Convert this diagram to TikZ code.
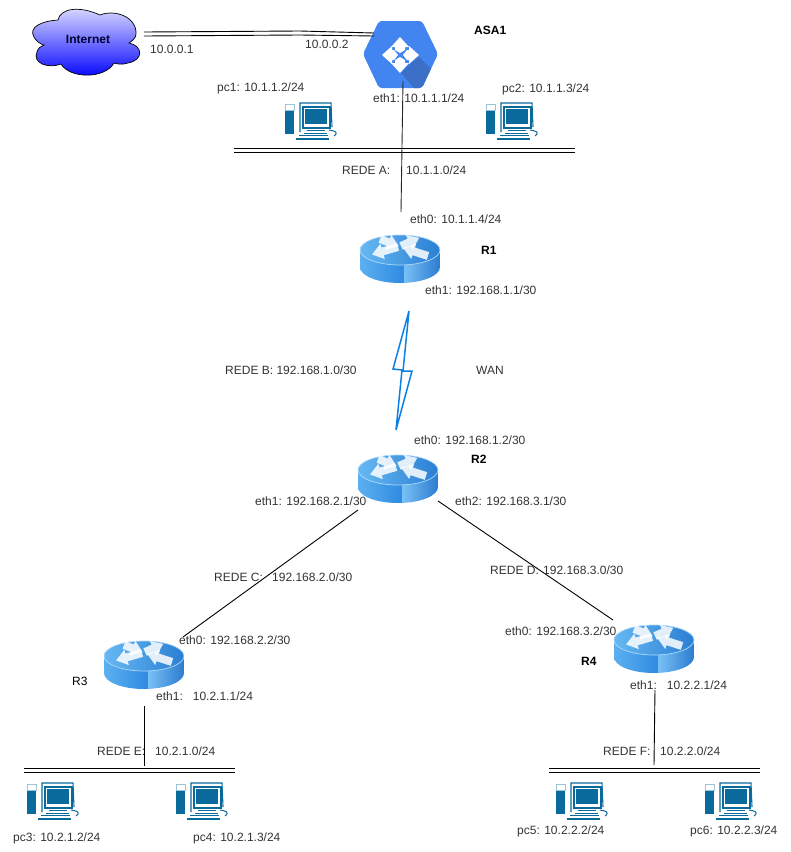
\documentclass[tikz,border=0pt]{standalone}
\usepackage{fontspec}
\setmainfont{Liberation Sans}
\usepackage{tikz}
\usetikzlibrary{arrows,positioning}
\definecolor{pcblue}{HTML}{0B6A9C}
\definecolor{asablue}{HTML}{4285F0}
\definecolor{asadark}{HTML}{3B6FC8}
\definecolor{txtgrey}{HTML}{333333}
\definecolor{wanblue}{HTML}{0A7FE6}
\definecolor{rtop1}{HTML}{66B8F2}
\definecolor{rtop2}{HTML}{2A7FD3}
\definecolor{rbody1}{HTML}{5CB0F0}
\definecolor{rbody2}{HTML}{2F8BE2}
\definecolor{rbody3}{HTML}{78C0F6}
\definecolor{rbody4}{HTML}{2C7CCF}
\tikzstyle{lbl}=[anchor=west,inner sep=0pt,text=txtgrey,font=\fontsize{12}{14}\selectfont]
\tikzstyle{devname}=[lbl,text=black,font=\fontsize{12}{14}\selectfont\bfseries]
\tikzstyle{link}=[draw=black,line width=.9pt]
\tikzstyle{bus}=[draw=black,line width=1pt]
\tikzset{
  router/.pic={
    \begin{scope}
      \clip (-40,-8) -- (-40,8) .. controls (-40,17) and (-22,24) .. (0,24)
        .. controls (22,24) and (40,17) .. (40,8) -- (40,-8) -- cycle;
      \path[left color=rbody1,right color=rbody2] (-40,-10) rectangle (4,25);
      \path[left color=rbody3,right color=rbody4] (4,-10) rectangle (40,25);
    \end{scope}
    \path[draw=rbody3!60!white,line width=.7pt,left color=rtop1,right color=rtop2]
      (0,-9) ellipse [x radius=40pt,y radius=15pt];
    \foreach \tx/\ty/\ang/\len in {-20/-20/-21/20, -2/-12/196/27, 1/-13/24/20, 28/-3/162/26}
      \fill[white,opacity=.85,shift={(\tx,\ty)},rotate=\ang]
        (0,-4) -- (\len-11,-4) -- (\len-11,-8) -- (\len,0) -- (\len-11,8) -- (\len-11,4) -- (0,4) -- cycle;
  },
  pcicon/.pic={
    \draw[pcblue!40!white,line width=.6pt] (0,2) rectangle (9,8);
    \fill[pcblue] (0,9) rectangle (9,32);
    \draw[pcblue,line width=1.1pt] (15,30) -- (15,1) -- (46,1) -- (47,25);
    \draw[pcblue,line width=1.1pt] (18,5) rectangle (45,26);
    \fill[pcblue] (20,7) rectangle (42,22);
    \draw[pcblue,line width=1pt] (22,28) -- (40,28);
    \draw[pcblue,line width=1pt] (19,31) -- (42,31);
    \draw[pcblue,line width=1pt] (44,28) .. controls (50,29) and (54,30) .. (49,34);
    \draw[pcblue,line width=1pt] (14,33) -- (43,33);
    \draw[pcblue,line width=1.3pt] (11,37) -- (44,37);
  }
}
\begin{document}
\begin{tikzpicture}[x=1pt,y=-1pt,>=stealth]
\useasboundingbox (0,0) rectangle (791,852);

% internet
\path[draw=black,line width=.7pt,top color=blue!12!white,bottom color=blue]
  (34,37) .. controls (28,27) and (42,21) .. (58,20)
  .. controls (60,9) and (78,5) .. (100,15)
  .. controls (115,9) and (137,17) .. (136,34)
  .. controls (136,38) and (132,41) .. (129,43)
  .. controls (143,46) and (144,60) .. (128,63)
  .. controls (122,65) and (117,64) .. (114,63)
  .. controls (105,79) and (70,79) .. (61,64)
  .. controls (48,69) and (32,63) .. (37,52)
  .. controls (38,48) and (41,46) .. (44,45)
  .. controls (40,44) and (36,41) .. (34,37) -- cycle;
\node[inner sep=0pt,text=black!80!blue,font=\fontsize{12}{14}\selectfont\bfseries] (inet) at (88,39) {Internet};

% asa
\fill[asablue,rounded corners=3pt] (379,21) -- (422,21) -- (438,54) -- (422,88) -- (379,88) -- (363,54) -- cycle;
\begin{scope}
  \clip[rounded corners=3pt] (379,21) -- (422,21) -- (438,54) -- (422,88) -- (379,88) -- (363,54) -- cycle;
  \fill[asadark] (419,57) -- (440,78) -- (430,95) -- (420,95) -- (401,73) -- (410,64) -- cycle;
\end{scope}
\fill[white] (400,37) -- (409,47) -- (405,47) -- (405,50) -- (400,53) -- (395,50) -- (395,47) -- (391,47) -- cycle;
\fill[white] (400,73) -- (409,63) -- (405,63) -- (405,60) -- (400,57) -- (395,60) -- (395,63) -- (391,63) -- cycle;
\fill[white] (382,55) -- (392,46) -- (392,50) -- (394,50) -- (398,55) -- (394,60) -- (392,60) -- (392,64) -- cycle;
\fill[white] (419,55) -- (409,46) -- (409,50) -- (407,50) -- (403,55) -- (407,60) -- (409,60) -- (409,64) -- cycle;
\coordinate (asaw1) at (374,33);
\coordinate (asaw2) at (374,36);
\coordinate (inet1) at (144,32);
\coordinate (inet2) at (144,36);
\coordinate (asas) at (403,81);

% routers
\pic at (400,259) {router};
\pic at (398,479) {router};
\pic at (144,665) {router};
\pic at (654,649) {router};

% pcs
\pic at (285,102) {pcicon};
\pic at (486,102) {pcicon};
\pic at (27,782) {pcicon};
\pic at (176,782) {pcicon};
\pic at (556,782) {pcicon};
\pic at (705,782) {pcicon};

% busses
\coordinate (busal) at (234,148);
\coordinate (busar) at (575,148);
\coordinate (busbl) at (234,152);
\coordinate (busbr) at (575,152);
\coordinate (busel) at (24,768);
\coordinate (buser) at (235,768);
\coordinate (busfl) at (24,772);
\coordinate (busfr) at (235,772);
\coordinate (busgl) at (549,768);
\coordinate (busgr) at (760,768);
\coordinate (bushl) at (549,772);
\coordinate (bushr) at (760,772);
\path[bus] (busal) -- (busar) (busbl) -- (busbr) (busel) -- (buser) (busfl) -- (busfr) (busgl) -- (busgr) (bushl) -- (bushr);

% links
\coordinate (r1n) at (401,212);
\coordinate (r2w) at (358,510);
\coordinate (r3e) at (183,637);
\coordinate (r2e) at (438,501);
\coordinate (r4n) at (613,620);
\coordinate (r3s) at (144,706);
\coordinate (esw) at (144,766);
\coordinate (r4s) at (655,690);
\coordinate (fsw) at (654,765);
\draw[link] (inet1) -- (300,31) -- (asaw1);
\draw[link] (inet2) -- (300,35) -- (asaw2);
\draw[link,black!85] (asas) -- (r1n);
\draw[link] (r2w) -- (r3e);
\draw[link] (r2e) -- (r4n);
\draw[link] (r3s) -- (esw);
\draw[link] (r4s) -- (fsw);
\draw[wanblue,line width=1.5pt,fill=white,line join=miter] (409,311) -- (393,369) -- (402,370) -- (396,430) -- (412,371) -- (403,371) -- cycle;

% labels
\node[lbl] (ip1) at (150,49) {10.0.0.1};
\node[lbl] (ip2) at (305,44) {10.0.0.2};
\node[devname] (asa) at (474,30) {ASA1};
\node[lbl] (pc1) at (217,88) {pc1: 10.1.1.2/24};
\node[lbl] (pc2) at (502,89) {pc2: 10.1.1.3/24};
\node[lbl] (asae1) at (373,98) {eth1: 10.1.1.1/24};
\node[lbl] (redea) at (342,170) {REDE A:};
\node[lbl] (neta) at (406,170) {10.1.1.0/24};
\node[lbl] (r1e0) at (410,219) {eth0: 10.1.1.4/24};
\node[devname] (r1) at (481,250) {R1};
\node[lbl] (r1e1) at (425,290) {eth1: 192.168.1.1/30};
\node[lbl] (redeb) at (225,370) {REDE B: 192.168.1.0/30};
\node[lbl] (wan) at (476,370) {WAN};
\node[lbl] (r2e0) at (414,440) {eth0: 192.168.1.2/30};
\node[devname] (r2) at (471,459) {R2};
\node[lbl] (r2e1) at (255,501) {eth1: 192.168.2.1/30};
\node[lbl] (r2e2) at (455,501) {eth2: 192.168.3.1/30};
\node[lbl] (redec) at (214,577) {REDE C:};
\node[lbl] (netc) at (272,577) {192.168.2.0/30};
\node[lbl] (reded) at (490,570) {REDE D:};
\node[lbl] (netd) at (543,570) {192.168.3.0/30};
\node[lbl] (r3e0) at (179,640) {eth0: 192.168.2.2/30};
\node[lbl,text=black] (r3) at (72,681) {R3};
\node[lbl] (r3e1) at (156,696) {eth1:\hspace{10pt}10.2.1.1/24};
\node[lbl] (redee) at (97,751) {REDE E:};
\node[lbl] (nete) at (155,751) {10.2.1.0/24};
\node[lbl] (pc3) at (13,838) {pc3: 10.2.1.2/24};
\node[lbl] (pc4) at (193,838) {pc4: 10.2.1.3/24};
\node[lbl] (r4e0) at (505,631) {eth0: 192.168.3.2/30};
\node[devname] (r4) at (581,661) {R4};
\node[lbl] (r4e1) at (630,685) {eth1:\hspace{10pt}10.2.2.1/24};
\node[lbl] (redef) at (603,751) {REDE F:};
\node[lbl] (netf) at (660,751) {10.2.2.0/24};
\node[lbl] (pc5) at (517,831) {pc5: 10.2.2.2/24};
\node[lbl] (pc6) at (690,831) {pc6: 10.2.2.3/24};
\end{tikzpicture}
\end{document}
